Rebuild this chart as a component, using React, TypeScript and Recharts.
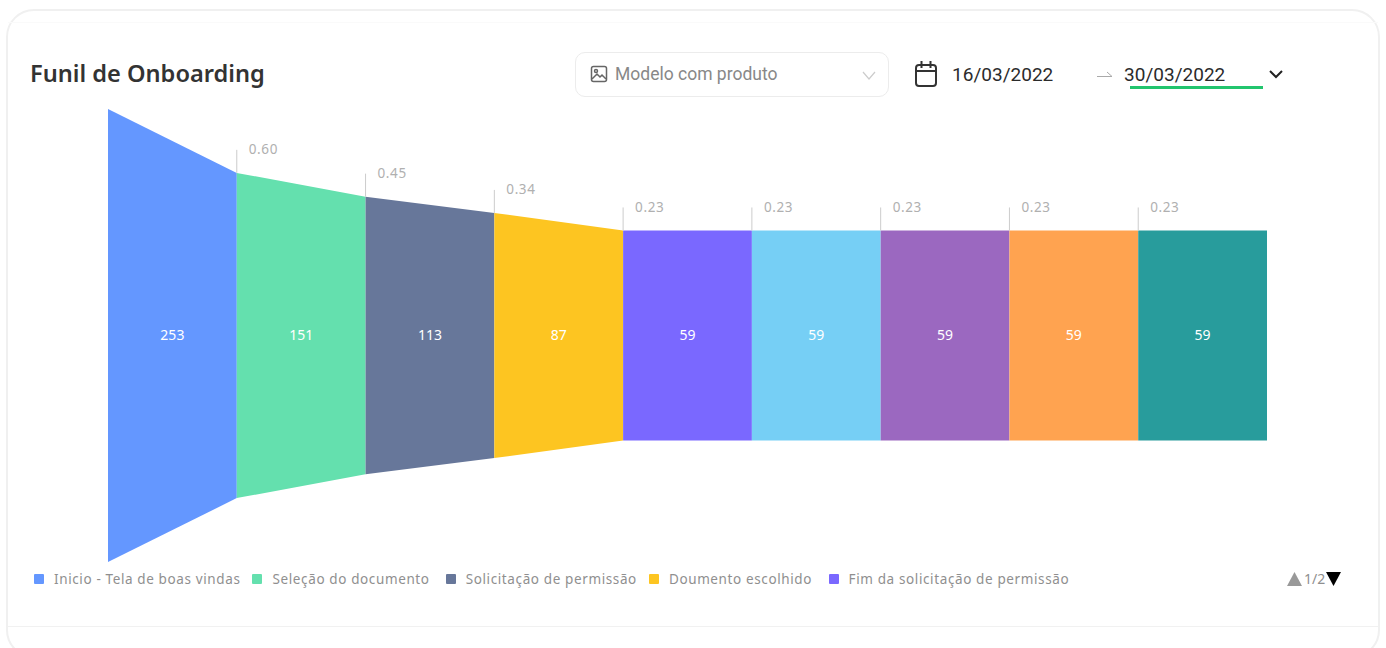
import { Area, ComposedChart, LabelList, Legend, Line, ReferenceLine, XAxis, YAxis } from "recharts";

const stageNames = [
  "Inicio - Tela de boas vindas",
  "Seleção do documento",
  "Solicitação de permissão",
  "Doumento escolhido",
  "Fim da solicitação de permissão",
  "Documento enviado",
  "Selfie",
  "Validação",
  "Fim",
];
const stageCounts = [253, 151, 113, 87, 59, 59, 59, 59, 59];
const conversionLabels = ["0.60", "0.45", "0.34", "0.23", "0.23", "0.23", "0.23", "0.23"];
const stageColors = ["#6497FF", "#64E0AE", "#67779A", "#FDC521", "#7A68FF", "#76CFF5", "#9B68C0", "#FFA350", "#289C9C"];
const legendGaps = [12, 16, 12, 16.5, 0];

// the funnel keeps a minimum thickness, so every band is the count plus this floor
const bandFloor = 108.6;
const halfMax = (stageCounts[0] + bandFloor) / 2;
const tickHeight = 18.4;

const halfBand = (count: number) => (count + bandFloor) / 2;

const segments = stageCounts.map((count, i) => {
  const next = stageCounts[i + 1] ?? count;
  return [
    { x: i, band: [-halfBand(count), halfBand(count)] },
    { x: i + 1, band: [-halfBand(next), halfBand(next)] },
  ];
});
const centers = stageCounts.map((count, i) => ({ x: i + 0.5, mid: 0, count }));

const font = '"Noto Sans", sans-serif';

function FunnelLegend({ payload }: any) {
  const items = (payload ?? []).filter((p: any) => p.type !== "none").slice(0, 5);
  return (
    <div style={{ display: "flex", alignItems: "center", height: 26, fontFamily: font, fontSize: 13.5, letterSpacing: 0.62, color: "#8f8f8f" }}>
      <div style={{ marginLeft: 34, display: "flex", alignItems: "center" }}>
        {items.map((item: any, i: number) => (
          <div key={item.value} style={{ display: "flex", alignItems: "center", marginRight: legendGaps[i], whiteSpace: "nowrap" }}>
            <span style={{ width: 10, height: 10, background: item.color, marginRight: 10, borderRadius: 1 }} />
            {item.value}
          </div>
        ))}
      </div>
      <div style={{ position: "absolute", left: 1287, top: 3, display: "flex", alignItems: "center", fontSize: 14, letterSpacing: 0 }}>
        <svg width={15} height={14}><polygon points="7.5,0 15,14 0,14" fill="#999" /></svg>
        <span style={{ margin: "0 1px 0 2px" }}>1/2</span>
        <svg width={15} height={14}><polygon points="0,0 15,0 7.5,14" fill="#000" /></svg>
      </div>
    </div>
  );
}

function ConversionLabel(text: string) {
  return (props: any) => (
    <text x={props.viewBox.x + 12} y={props.viewBox.y + 4.5} fill="#b0b0b0" fontSize={13.5} letterSpacing={0.6} fontFamily={font}>
      {text}
    </text>
  );
}

function Header() {
  return (
    <>
      <div style={{ position: "absolute", left: 6, top: 9, width: 1370, height: 645, border: "2px solid #f0f0f0", borderRadius: 28 }} />
      <div style={{ position: "absolute", left: 8, top: 22, width: 1370, height: 1, background: "#fafafa" }} />
      <div style={{ position: "absolute", left: 8, top: 626, width: 1370, height: 1, background: "#f1f1f1" }} />
      <div style={{ position: "absolute", left: 30, top: 56, fontFamily: font, fontWeight: 600, fontSize: 23.6, lineHeight: "34px", color: "#333", whiteSpace: "nowrap" }}>
        Funil de Onboarding
      </div>
      <div style={{ position: "absolute", left: 575, top: 52, width: 312, height: 43, border: "1px solid #ececec", borderRadius: 10 }} />
      <svg style={{ position: "absolute", left: 590, top: 65 }} width={18} height={18} viewBox="0 0 18 18" fill="none" stroke="#666" strokeWidth={1.5}>
        <rect x={1.5} y={1.5} width={15} height={15} rx={2} />
        <circle cx={6} cy={6} r={1.5} />
        <path d="M2 14l5-5 3 3 2-2 4 4" />
      </svg>
      <div style={{ position: "absolute", left: 615, top: 62, fontFamily: "Roboto", fontSize: 17.5, lineHeight: "24px", letterSpacing: 0, color: "#888", whiteSpace: "nowrap" }}>
        Modelo com produto
      </div>
      <svg style={{ position: "absolute", left: 862, top: 71 }} width={14} height={9} fill="none" stroke="#ccc" strokeWidth={1.2}>
        <path d="M1 1l6 7 6-7" />
      </svg>
      <svg style={{ position: "absolute", left: 914, top: 60 }} width={24} height={28} viewBox="0 0 24 28" fill="none" stroke="#333" strokeWidth={2}>
        <rect x={2} y={5} width={20} height={21} rx={3} />
        <path d="M2 11h20M7.500 1v7M16.500 1v7" />
      </svg>
      <div style={{ position: "absolute", left: 952, top: 62, fontFamily: "Roboto", fontSize: 19, lineHeight: "25px", letterSpacing: 0.02, color: "#2b2b2b" }}>16/03/2022</div>
      <svg style={{ position: "absolute", left: 1097, top: 71 }} width={16} height={8} fill="none" stroke="#aaa" strokeWidth={1}>
        <path d="M0 5.500h15L10 1" />
      </svg>
      <div style={{ position: "absolute", left: 1124, top: 62, fontFamily: "Roboto", fontSize: 19, lineHeight: "25px", letterSpacing: 0.02, color: "#2b2b2b" }}>30/03/2022</div>
      <div style={{ position: "absolute", left: 1130, top: 86, width: 133, height: 3, background: "#22c56e" }} />
      <svg style={{ position: "absolute", left: 1269, top: 70 }} width={14} height={9} fill="none" stroke="#222" strokeWidth={2}>
        <path d="M1 1l6 6 6-6" />
      </svg>
    </>
  );
}

export default function App() {
  return (
    <div style={{ position: "absolute", left: 0, top: 0, width: 1386, height: 648, overflow: "hidden", background: "#fff" }}>
      <Header />
      <ComposedChart width={1386} height={648} margin={{ top: 109, right: 119, bottom: 86, left: 108 }} style={{ position: "absolute", left: 0, top: 0 }}>
        <XAxis dataKey="x" type="number" domain={[0, stageCounts.length]} hide />
        <YAxis type="number" domain={[-halfMax, halfMax]} hide />
        {segments.map((rows, i) => (
          <Area
            key={stageNames[i]}
            data={rows}
            dataKey="band"
            name={stageNames[i]}
            type="linear"
            stroke="none"
            fill={stageColors[i]}
            fillOpacity={1}
            dot={false}
            activeDot={false}
            isAnimationActive={false}
          />
        ))}
        <Line data={centers} dataKey="mid" legendType="none" stroke="none" dot={false} activeDot={false} isAnimationActive={false}>
          <LabelList dataKey="count" position="center" fill="#fff" fontSize={14} fontFamily={font} />
        </Line>
        {conversionLabels.map((text, i) => {
          const top = halfBand(stageCounts[i + 1]);
          return (
            <ReferenceLine
              key={i}
              segment={[
                { x: i + 1, y: top },
                { x: i + 1, y: top + tickHeight },
              ]}
              stroke="#cccccc"
              strokeWidth={1}
              label={ConversionLabel(text)}
            />
          );
        })}
        <Legend
          layout="horizontal"
          verticalAlign="middle"
          align="center"
          itemSorter={null}
          content={<FunnelLegend />}
          wrapperStyle={{ position: "absolute", left: 0, top: 566, width: 1386 }}
        />
      </ComposedChart>
    </div>
  );
}
